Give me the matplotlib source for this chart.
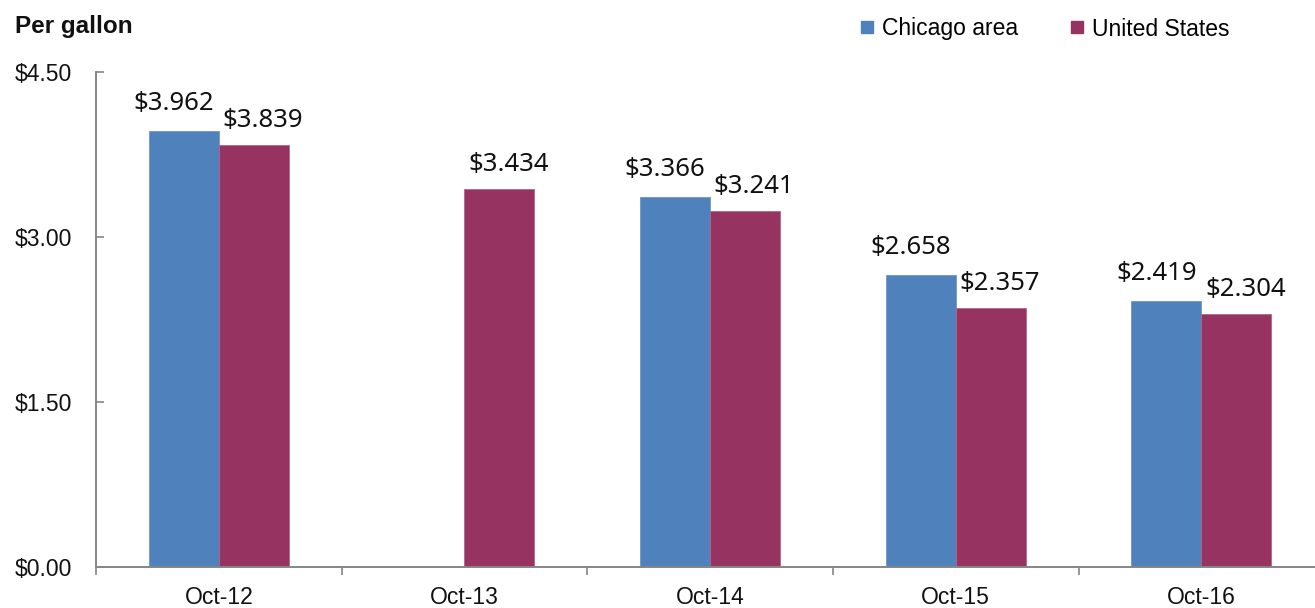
import numpy as np
import matplotlib.pyplot as plt
from matplotlib.lines import Line2D
from matplotlib.ticker import FixedLocator

months = ['Oct-12', 'Oct-13', 'Oct-14', 'Oct-15', 'Oct-16']
chicago = [3.962, np.nan, 3.366, 2.658, 2.419]
us = [3.839, 3.434, 3.241, 2.357, 2.304]
yticks = [0.0, 1.5, 3.0, 4.5]

blue = '#4F81BD'
maroon = '#973361'
axis_grey = '#868686'

fig = plt.figure(figsize=(13.15, 6.08), dpi=100)
ax = fig.add_axes([0.073, 0.0674, 0.934, 0.8141])

x = np.arange(len(months))
w = 0.285
ax.bar(x - w / 2, chicago, w, color=blue, edgecolor='#6E97C8', linewidth=0.6)
ax.bar(x + w / 2, us, w, color=maroon, edgecolor='#B0678A', linewidth=0.6)

# value labels (pixel offsets -> points at 100 dpi)
px = 0.72
lab_font = dict(family='Noto Sans', fontsize=18.5, color='#111111')
for xi, v in zip(x, chicago):
    if np.isnan(v):
        continue
    ax.annotate(f'${v:.3f}', (xi - w / 2, v), xytext=(-10 * px, 21 * px),
                textcoords='offset points', ha='center', va='baseline', **lab_font)
for xi, v in zip(x, us):
    ax.annotate(f'${v:.3f}', (xi + w / 2, v), xytext=(9 * px, 18 * px),
                textcoords='offset points', ha='center', va='baseline', **lab_font)

ax.set_xlim(-0.5, len(months) - 0.5)
ax.set_ylim(0, 4.5)

ax.set_yticks(yticks)
ax.set_yticklabels([f'${t:.2f}' for t in yticks], family='Liberation Sans',
                   fontsize=16.5, color='#111111')
ax.tick_params(axis='y', direction='in', length=6, width=1.2, color=axis_grey, pad=17)

ax.set_xticks(x)
ax.set_xticklabels(months, family='Liberation Sans', fontsize=16.5, color='#111111')
ax.xaxis.set_minor_locator(FixedLocator(np.arange(-0.5, len(months), 1.0)))
ax.tick_params(axis='x', which='major', length=0, pad=14)
ax.tick_params(axis='x', which='minor', direction='out', length=6, width=1.2, color=axis_grey)

for side in ('top', 'right'):
    ax.spines[side].set_visible(False)
for side in ('left', 'bottom'):
    ax.spines[side].set_color(axis_grey)
    ax.spines[side].set_linewidth(1.4)

fig.text(0.0114, 1 - 26 / 608, 'Per gallon', family='Liberation Sans', fontsize=17.5,
         fontweight='bold', va='center', ha='left', color='#111111')

handles = [Line2D([], [], marker='s', linestyle='none', markersize=8.5, color=blue),
           Line2D([], [], marker='s', linestyle='none', markersize=8.5, color=maroon)]
fig.legend(handles, ['Chicago area', 'United States'], loc='center left',
           bbox_to_anchor=(846 / 1315, 1 - 29 / 608), ncol=2, frameon=False,
           handlelength=0.8, handletextpad=0.25, columnspacing=2.2, borderpad=0,
           prop=dict(family='Liberation Sans', size=16.5))

fig.savefig('out.png', dpi=100, facecolor='white')
